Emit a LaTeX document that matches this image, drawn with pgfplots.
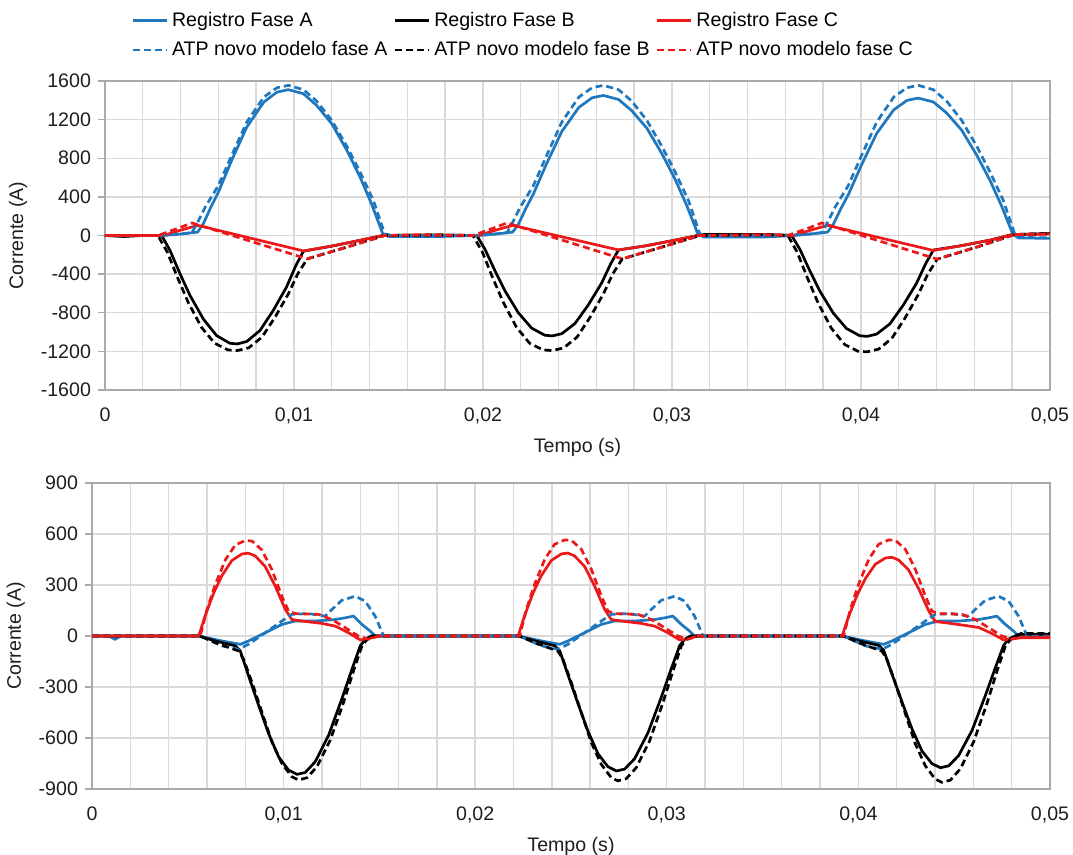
\documentclass[border=0pt]{standalone}
\usepackage{fontspec}
\setmainfont{Liberation Sans}
\usepackage{pgfplots}
\pgfplotsset{compat=1.18}

\definecolor{faseA}{RGB}{31,119,190}
\definecolor{faseC}{RGB}{235,25,25}
\definecolor{gridc}{RGB}{217,217,217}
\definecolor{axc}{RGB}{170,170,170}
\definecolor{txt}{RGB}{30,30,30}

\pgfplotsset{
  painel/.style={
    scale only axis,
    xmin=0, xmax=0.05,
    xtick={0,0.01,0.02,0.03,0.04,0.05},
    xticklabels={0,{0,01},{0,02},{0,03},{0,04},{0,05}},
    scaled x ticks=false, scaled y ticks=false,
    minor x tick num=4,
    xmajorgrids, xminorgrids, ymajorgrids,
    xtick pos=bottom, ytick pos=left,
    xtick align=inside, ytick align=outside, major tick length=3.5pt,
    minor tick length=0pt,
    axis line style={axc, line width=0.7pt},
    xtick style={draw=none},
    ytick style={axc, line width=0.7pt},
    major grid style={gridc, line width=0.7pt},
    minor grid style={gridc, line width=0.7pt},
    xticklabel style={yshift=-5.5pt},
    tick label style={font=\fontsize{9.8}{11}\selectfont, text=txt},
    label style={font=\fontsize{9.8}{11}\selectfont, text=txt},
    xlabel={Tempo (s)},
    ylabel={Corrente (A)},
    every axis plot/.append style={line width=1.35pt, line join=round},
  },
  reg/.style={solid},
  atp/.style={dash pattern=on 3.5pt off 2pt},
}

\begin{document}
\begin{tikzpicture}
\path[use as bounding box] (0,0) rectangle (536.5pt,427.5pt);

% ---------------- top panel ----------------
\begin{axis}[painel,
  at={(52.5pt,232.5pt)}, anchor=south west,
  width=472.5pt, height=154.5pt,
  ymin=-1600, ymax=1600,
  ytick={-1600,-1200,-800,-400,0,400,800,1200,1600},
  yticklabels={-1600,-1200,-800,-400,0,400,800,1200,1600},
  legend columns=3,
  legend cell align=left,
  legend style={draw=none, fill=none, font=\fontsize{9.8}{11}\selectfont,
    at={(axis description cs:0.021,1.25)}, anchor=north west,
    /tikz/every even column/.append style={column sep=1pt},
    row sep=2pt},
]
% Registro Fase A
\addplot[faseA, reg] coordinates {
(0,0)(0.0005,-3)(0.001,-8)(0.0015,-2)(0.002,0)(0.0031,0)(0.004,15)(0.0049,35)
(0.0052,120)(0.0056,293)(0.006,449)(0.0067,777)(0.0075,1122)(0.0084,1381)(0.0091,1485)
(0.0097,1510)(0.0105,1468)(0.0112,1347)(0.012,1157)(0.0128,881)(0.0135,604)(0.0141,328)
(0.0147,17)(0.015,-10)(0.0175,-12)
(0.01977,0)(0.02067,15)(0.02157,35)(0.02187,115)(0.02227,281)(0.02267,431)(0.02337,746)
(0.02417,1077)(0.02507,1326)(0.02577,1426)(0.02637,1450)(0.02717,1409)(0.02787,1293)
(0.02867,1111)(0.02947,846)(0.03017,580)(0.03077,315)(0.03137,16)(0.03167,-15)(0.035,-15)
(0.03643,0)(0.03733,15)(0.03823,35)(0.03853,113)(0.03893,276)(0.03933,423)(0.04003,732)
(0.04083,1057)(0.04173,1301)(0.04243,1399)(0.04303,1423)(0.04383,1383)(0.04453,1269)
(0.04533,1090)(0.04613,830)(0.04683,569)(0.04743,309)(0.04803,16)(0.04833,-25)(0.05,-30)
};
\addlegendentry{Registro Fase A}
% Registro Fase B
\addplot[black, reg] coordinates {
(0,0)(0.001,-10)(0.0015,-5)(0.002,0)
(0.003,0)(0.00344,-155)(0.00397,-397)(0.0045,-622)(0.0052,-864)(0.0059,-1036)(0.0066,-1116)
(0.007,-1123)(0.0075,-1098)(0.0082,-984)(0.0089,-777)(0.0096,-535)(0.0101,-311)(0.0105,-162)
(0.012,-110)(0.0135,-50)(0.0147,0)(0.0175,5)
(0.01967,0)(0.02011,-144)(0.02064,-368)(0.02117,-576)(0.02187,-800)(0.02257,-959)(0.02327,-1033)
(0.02367,-1040)(0.02417,-1017)(0.02487,-911)(0.02557,-720)(0.02627,-495)(0.02677,-288)(0.02717,-150)
(0.02867,-105)(0.03017,-48)(0.03137,0)(0.0317,10)(0.035,10)
(0.03633,0)(0.03677,-144)(0.0373,-369)(0.03783,-578)(0.03853,-803)(0.03923,-963)(0.03993,-1038)
(0.04033,-1045)(0.04083,-1021)(0.04153,-915)(0.04223,-723)(0.04293,-498)(0.04343,-289)(0.04383,-151)
(0.04533,-105)(0.04683,-48)(0.04803,10)(0.05,20)
};
\addlegendentry{Registro Fase B}
% Registro Fase C
\addplot[faseC, reg] coordinates {
(0,0)(0.0031,0)(0.004,55)(0.0049,105)(0.0105,-160)(0.012,-110)(0.0135,-50)(0.0147,0)(0.0165,5)
(0.01977,0)(0.02067,55)(0.02157,105)(0.02717,-150)(0.02867,-105)(0.03017,-48)(0.03137,0)(0.035,10)
(0.03643,0)(0.03733,55)(0.03823,105)(0.04383,-155)(0.04533,-105)(0.04683,-48)(0.04803,10)(0.05,15)
};
\addlegendentry{Registro Fase C}
% ATP fase A
\addplot[faseA, atp] coordinates {
(0,0)(0.0028,0)(0.0035,8)(0.0042,20)(0.0046,30)(0.00486,120)(0.0053,293)(0.006,518)(0.0067,829)
(0.0075,1174)(0.0084,1433)(0.0091,1530)(0.0097,1555)(0.0105,1510)(0.0112,1392)(0.012,1192)
(0.0128,922)(0.0135,656)(0.0142,363)(0.0148,17)(0.0152,0)
(0.01947,0)(0.02017,8)(0.02087,20)(0.02127,30)(0.02153,120)(0.02197,293)(0.02267,518)(0.02337,829)
(0.02417,1174)(0.02507,1433)(0.02577,1530)(0.02637,1555)(0.02717,1510)(0.02787,1392)(0.02867,1192)
(0.02947,922)(0.03017,656)(0.03087,363)(0.03147,17)(0.03187,0)
(0.03613,0)(0.03683,8)(0.03753,20)(0.03793,30)(0.03819,120)(0.03863,293)(0.03933,518)(0.04003,829)
(0.04083,1174)(0.04173,1433)(0.04243,1530)(0.04303,1555)(0.04383,1510)(0.04453,1392)(0.04533,1192)
(0.04613,922)(0.04683,656)(0.04753,363)(0.04813,17)(0.04853,-20)(0.05,-25)
};
\addlegendentry{ATP novo modelo fase A}
% ATP fase B
\addplot[black, atp] coordinates {
(0,0)(0.0028,0)(0.0033,-173)(0.00383,-432)(0.0044,-691)(0.0051,-950)(0.0058,-1116)(0.0065,-1185)
(0.007,-1192)(0.0076,-1164)(0.0083,-1054)(0.009,-846)(0.0097,-605)(0.0102,-397)(0.0107,-242)
(0.0128,-120)(0.0148,0)(0.0175,5)
(0.01947,0)(0.01997,-173)(0.0205,-432)(0.02107,-691)(0.02177,-950)(0.02247,-1116)(0.02317,-1185)
(0.02367,-1192)(0.02427,-1164)(0.02497,-1054)(0.02567,-846)(0.02637,-605)(0.02687,-397)(0.02737,-242)
(0.02947,-120)(0.03147,0)(0.035,8)
(0.03613,0)(0.03663,-175)(0.03716,-437)(0.03773,-699)(0.03843,-960)(0.03913,-1128)(0.03983,-1198)
(0.04033,-1205)(0.04093,-1177)(0.04163,-1066)(0.04233,-855)(0.04303,-612)(0.04353,-401)(0.04403,-245)
(0.04613,-120)(0.04813,10)(0.05,20)
};
\addlegendentry{ATP novo modelo fase B}
% ATP fase C
\addplot[faseC, atp] coordinates {
(0,0)(0.0028,0)(0.0038,70)(0.0046,130)(0.0107,-242)(0.0128,-120)(0.0148,0)(0.0165,5)
(0.01947,0)(0.02047,70)(0.02127,130)(0.02737,-242)(0.02947,-120)(0.03147,0)(0.035,5)
(0.03613,0)(0.03713,70)(0.03793,130)(0.04403,-245)(0.04613,-120)(0.04813,10)(0.05,15)
};
\addlegendentry{ATP novo modelo fase C}
\end{axis}

% ---------------- bottom panel ----------------
\begin{axis}[painel,
  at={(46pt,33pt)}, anchor=south west,
  width=479pt, height=153pt,
  ymin=-900, ymax=900,
  ytick={-900,-600,-300,0,300,600,900},
  yticklabels={-900,-600,-300,0,300,600,900},
]
% Registro Fase A
\addplot[faseA, reg] coordinates {
(0,0)(0.0009,0)(0.0012,-20)(0.0015,0)(0.00557,0)(0.00678,-29)(0.00774,-49)(0.00817,-29)
(0.00904,19)(0.00991,68)(0.0106,88)(0.01165,88)(0.0127,97)(0.01322,107)(0.01365,117)
(0.01409,68)(0.01452,29)(0.01478,0)
(0.02224,0)(0.02345,-29)(0.02441,-49)(0.02484,-29)(0.02571,19)(0.02658,68)(0.02727,88)
(0.02832,88)(0.02937,97)(0.02989,107)(0.03032,117)(0.03076,68)(0.03119,29)(0.03145,0)
(0.03915,0)(0.04036,-29)(0.04132,-49)(0.04175,-29)(0.04262,19)(0.04349,68)(0.04418,88)
(0.04523,88)(0.04628,97)(0.0468,107)(0.04723,117)(0.04767,68)(0.0481,29)(0.04836,0)(0.05,0)
};
% Registro Fase B
\addplot[black, reg] coordinates {
(0,0)(0.00557,0)(0.00643,-29)(0.00748,-58)(0.00774,-88)(0.00817,-234)(0.0087,-409)(0.00922,-575)
(0.00974,-711)(0.01026,-789)(0.0107,-814)(0.01113,-803)(0.01165,-740)(0.01235,-584)(0.01304,-370)
(0.01357,-195)(0.014,-58)(0.01426,-19)(0.0146,0)
(0.02224,0)(0.0231,-28)(0.02415,-57)(0.02441,-86)(0.02484,-228)(0.02537,-399)(0.02589,-561)
(0.02641,-693)(0.02693,-769)(0.02737,-794)(0.0278,-783)(0.02832,-722)(0.02902,-569)(0.02971,-361)
(0.03024,-190)(0.03067,-57)(0.03093,-19)(0.03127,0)
(0.03915,0)(0.04001,-28)(0.04106,-55)(0.04132,-84)(0.04175,-223)(0.04228,-389)(0.0428,-547)
(0.04332,-677)(0.04384,-751)(0.04428,-775)(0.04471,-764)(0.04523,-704)(0.04593,-556)(0.04662,-352)
(0.04715,-186)(0.04758,-55)(0.04784,-18)(0.04818,0)(0.0485,10)(0.05,10)
};
% Registro Fase C
\addplot[faseC, reg] coordinates {
(0,0)(0.00557,0)(0.0059,117)(0.00635,253)(0.00678,355)(0.0073,444)(0.00783,483)(0.00817,487)
(0.00852,471)(0.00904,409)(0.00957,292)(0.01009,156)(0.01043,97)(0.01096,88)(0.012,74)(0.0127,58)
(0.01339,19)(0.014,-23)(0.01443,-16)(0.01496,0)
(0.02224,0)(0.02257,117)(0.02302,253)(0.02345,355)(0.02397,444)(0.0245,483)(0.02484,488)
(0.02519,471)(0.02571,409)(0.02624,292)(0.02676,156)(0.0271,97)(0.02763,88)(0.02867,74)(0.02937,58)
(0.03006,19)(0.03067,-23)(0.0311,-16)(0.03163,0)
(0.03915,0)(0.03948,111)(0.03993,240)(0.04036,337)(0.04088,422)(0.04141,459)(0.04175,463)
(0.0421,447)(0.04262,389)(0.04315,277)(0.04367,148)(0.04401,85)(0.04454,78)(0.04558,62)(0.04628,50)
(0.04697,15)(0.04758,-23)(0.04801,-16)(0.04854,-10)(0.05,-10)
};
% ATP fase A
\addplot[faseA, atp] coordinates {
(0,0)(0.00565,0)(0.00678,-58)(0.00765,-78)(0.00817,-49)(0.00904,19)(0.00991,88)(0.01043,127)
(0.0113,132)(0.01217,117)(0.01252,156)(0.01304,210)(0.01374,234)(0.01426,205)(0.01478,117)(0.01522,0)
(0.02232,0)(0.02345,-58)(0.02432,-78)(0.02484,-49)(0.02571,19)(0.02658,88)(0.0271,127)
(0.02797,132)(0.02884,117)(0.02919,156)(0.02971,210)(0.03041,234)(0.03093,205)(0.03145,117)(0.03189,0)
(0.03923,0)(0.04036,-58)(0.04123,-78)(0.04175,-49)(0.04262,19)(0.04349,88)(0.04401,127)
(0.04488,132)(0.04575,117)(0.0461,156)(0.04662,210)(0.04732,234)(0.04784,205)(0.04836,117)(0.0488,0)(0.05,0)
};
% ATP fase B
\addplot[black, atp] coordinates {
(0,0)(0.00565,0)(0.00643,-39)(0.00765,-88)(0.00791,-136)(0.00835,-273)(0.00887,-448)(0.00939,-623)
(0.00991,-750)(0.01043,-828)(0.01078,-847)(0.01122,-834)(0.01174,-769)(0.01243,-614)(0.01313,-390)
(0.01365,-205)(0.01409,-58)(0.01443,-10)(0.0146,0)
(0.02232,0)(0.0231,-39)(0.02432,-89)(0.02458,-137)(0.02502,-275)(0.02554,-451)(0.02606,-627)
(0.02658,-755)(0.0271,-833)(0.02745,-852)(0.02789,-839)(0.02841,-774)(0.0291,-618)(0.0298,-392)
(0.03032,-206)(0.03076,-58)(0.0311,-10)(0.03127,0)
(0.03923,0)(0.04001,-40)(0.04123,-89)(0.04149,-138)(0.04193,-278)(0.04245,-456)(0.04297,-634)
(0.04349,-763)(0.04401,-842)(0.04436,-861)(0.0448,-848)(0.04532,-782)(0.04601,-624)(0.04671,-397)
(0.04723,-208)(0.04767,-59)(0.04801,-10)(0.04818,0)(0.0485,15)(0.05,15)
};
% ATP fase C
\addplot[faseC, atp] coordinates {
(0,0)(0.00565,0)(0.006,156)(0.00643,302)(0.00696,448)(0.00748,536)(0.008,561)(0.00835,559)
(0.00887,506)(0.00939,390)(0.00991,234)(0.01026,146)(0.0106,132)(0.01183,127)(0.01252,97)
(0.01322,49)(0.0139,0)(0.01443,-19)(0.01496,0)
(0.02232,0)(0.02267,157)(0.0231,304)(0.02363,451)(0.02415,540)(0.02467,565)(0.02502,563)
(0.02554,510)(0.02606,393)(0.02658,236)(0.02693,146)(0.02727,132)(0.0285,127)(0.02919,97)
(0.02989,49)(0.03057,0)(0.0311,-19)(0.03163,0)
(0.03923,0)(0.03958,157)(0.04001,304)(0.04054,451)(0.04106,540)(0.04158,565)(0.04193,563)
(0.04245,510)(0.04297,393)(0.04349,236)(0.04384,146)(0.04418,132)(0.04541,127)(0.0461,97)
(0.0468,49)(0.04748,0)(0.04801,-19)(0.04854,-5)(0.05,-5)
};
\end{axis}
\end{tikzpicture}
\end{document}
